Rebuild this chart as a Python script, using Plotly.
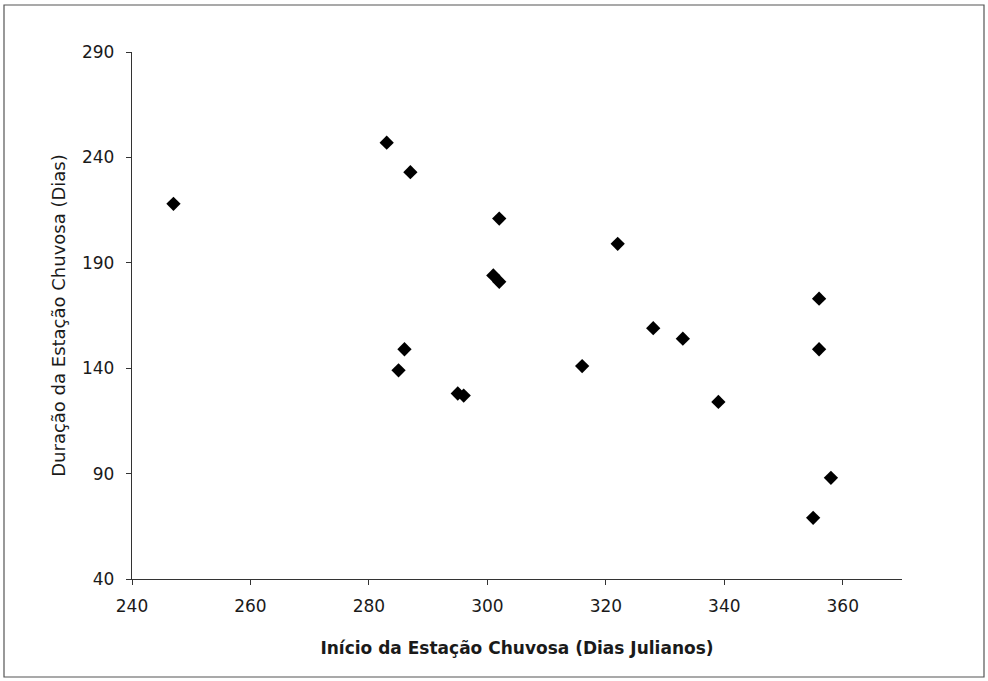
import plotly.graph_objects as go

inicio = [247, 283, 287, 302, 301, 302, 322, 286, 285, 295, 296, 316, 328, 333, 339, 356, 356, 358, 355]
duracao = [218, 247, 233, 211, 184, 181, 199, 149, 139, 128, 127, 141, 159, 154, 124, 173, 149, 88, 69]

x_ticks = [240, 260, 280, 300, 320, 340, 360]
y_ticks = [40, 90, 140, 190, 240, 290]

W, H = 988, 681
ML, MR, MT, MB = 132, 86, 52, 102
pw, ph = W - ML - MR, H - MT - MB

def px(xp):
    return (xp - ML) / pw

def py(yp):
    return (H - MB - yp) / ph

fig = go.Figure()
fig.add_trace(go.Scatter(
    x=inicio, y=duracao, mode="markers",
    marker=dict(symbol="diamond", size=11, color="black"),
    showlegend=False,
))

font = "DejaVu Sans, Verdana, sans-serif"
fig.update_layout(
    width=W, height=H,
    margin=dict(l=ML, r=MR, t=MT, b=MB),
    paper_bgcolor="white", plot_bgcolor="white",
    font=dict(family=font, size=17, color="#1a1a1a"),
    xaxis=dict(
        range=[240, 370], tickvals=x_ticks, showgrid=False, zeroline=False,
        showline=True, linecolor="#333", linewidth=1.3,
        ticks="outside", ticklen=5, tickcolor="#333",
        ticklabelstandoff=6,
        title=dict(text="<b>Início da Estação Chuvosa (Dias Julianos)</b>",
                   font=dict(size=17, family=font), standoff=27),
    ),
    yaxis=dict(
        range=[40, 290], tickvals=y_ticks, showgrid=False, zeroline=False,
        showline=True, linecolor="#333", linewidth=1.3,
        ticks="outside", ticklen=5, tickcolor="#333",
        ticklabelstandoff=8,
        title=dict(text="Duração da Estação Chuvosa (Dias)",
                   font=dict(size=18, family=font), standoff=11),
    ),
    shapes=[dict(
        type="rect", xref="paper", yref="paper",
        x0=px(4), x1=px(984), y0=py(677), y1=py(5),
        line=dict(color="#555", width=1.2), fillcolor="rgba(0,0,0,0)",
        layer="below",
    )],
)

fig.write_html("out.html", config={"displayModeBar": False},
               post_script="document.body.style.margin='0';")
